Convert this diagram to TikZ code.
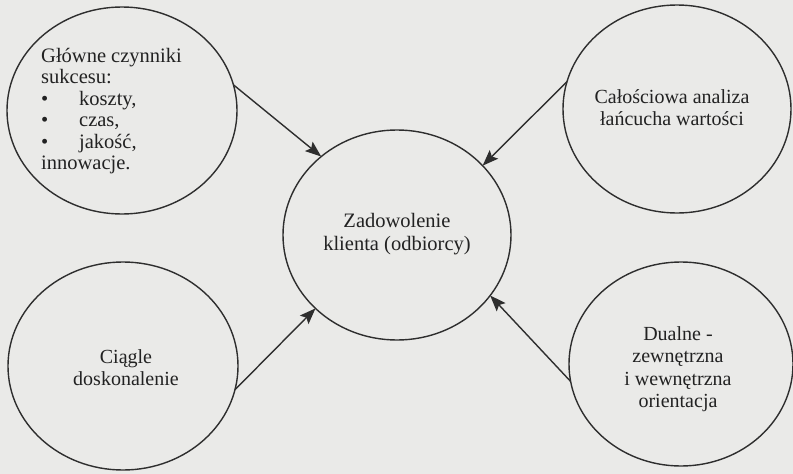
\documentclass[tikz,border=0pt]{standalone}
\usepackage{fontspec}
\setmainfont{Liberation Serif}
\usetikzlibrary{shapes.geometric,arrows.meta}
\definecolor{paper}{HTML}{EAEAE8}
\definecolor{ink}{HTML}{2E2E2E}
\definecolor{textink}{HTML}{222222}
\begin{document}
\begin{tikzpicture}[x=1pt,y=-1pt,
  bubble/.style={ellipse, draw=ink, line width=1.4pt, inner sep=0pt, outer sep=0pt},
  txt/.style={text=textink, inner sep=0pt, align=center},
  link/.style={draw=ink, line width=1.4pt, -{Stealth[length=16pt,width=12pt,inset=3pt]}}
]
% paper background and page size
\fill[paper] (0,0) rectangle (793,474);
\useasboundingbox (0,0) rectangle (793,474);

% the five ellipses
\node[bubble, minimum width=230pt, minimum height=207pt] (tl) at (122,110.5) {};
\node[bubble, minimum width=228pt, minimum height=208pt] (tr) at (677,109) {};
\node[bubble, minimum width=230pt, minimum height=208pt] (bl) at (123,366) {};
\node[bubble, minimum width=224pt, minimum height=204pt] (br) at (681,364) {};
\node[bubble, minimum width=228pt, minimum height=210pt] (c) at (397,235) {};

% texts
\node[txt, anchor=west, align=left, font=\fontsize{20.5}{21.5}\selectfont] (tltext) at (41,111)
  {Główne czynniki\\ sukcesu:\\ \makebox[38pt][l]{•}koszty,\\ \makebox[38pt][l]{•}czas,\\ \makebox[38pt][l]{•}jakość,\\ innowacje.};
\node[txt, font=\fontsize{20}{22}\selectfont] (trtext) at (672,108)
  {Całościowa analiza\\ łańcucha wartości};
\node[txt, font=\fontsize{20}{22}\selectfont] (bltext) at (126,368)
  {Ciągle\\ doskonalenie};
\node[txt, font=\fontsize{20}{22.5}\selectfont] (brtext) at (678,369)
  {Dualne -\\ zewnętrzna\\ i wewnętrzna\\ orientacja};
\node[txt, font=\fontsize{20.5}{23}\selectfont] (ctext) at (397,234)
  {Zadowolenie\\ klienta (odbiorcy)};

% arrows into the central ellipse
\draw[link] (tl.13) -- (c.134);
\draw[link] (tr.166) -- (c.39);
\draw[link] (bl.-12) -- (c.222);
\draw[link] (br.189) -- (c.327);
\end{tikzpicture}
\end{document}
